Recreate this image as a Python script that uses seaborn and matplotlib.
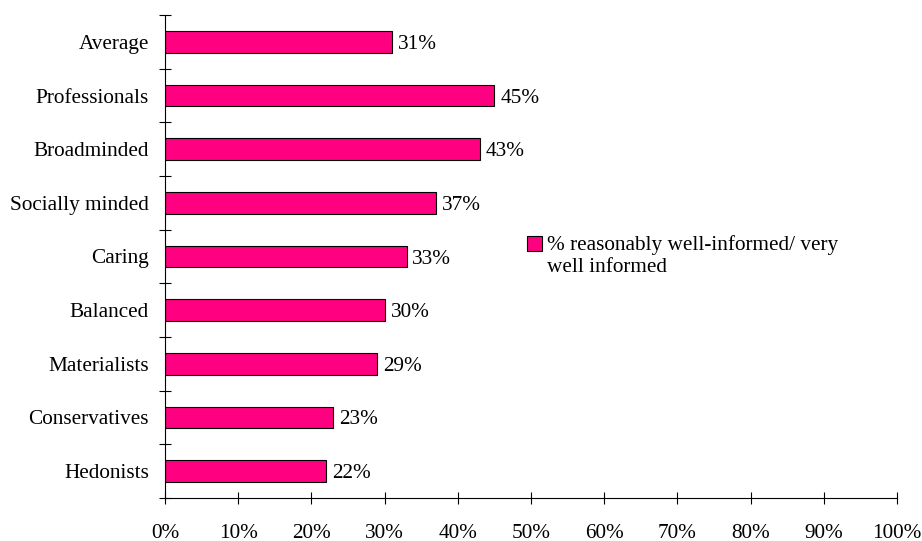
import matplotlib
matplotlib.use("Agg")
import matplotlib.pyplot as plt
import seaborn as sns
import pandas as pd
from matplotlib.patches import Patch, Rectangle
from matplotlib.legend_handler import HandlerPatch
from matplotlib.ticker import FixedLocator

categories = ["Average", "Professionals", "Broadminded", "Socially minded", "Caring",
              "Balanced", "Materialists", "Conservatives", "Hedonists"]
values = [31, 45, 43, 37, 33, 30, 29, 23, 22]
x_ticks = [0, 10, 20, 30, 40, 50, 60, 70, 80, 90, 100]
series_name = "% reasonably well-informed/ very\nwell informed"
bar_color = "#FF0080"

sns.set_theme(style="white")
plt.rcParams['font.family'] = ['Liberation Serif', 'DejaVu Serif']

FS = 15.3

df = pd.DataFrame({"cat": categories, "val": values})

fig = plt.figure(figsize=(9.22, 5.41), dpi=100)
ax = fig.add_axes([165/922, 43/541, 732/922, 483/541])

sns.barplot(data=df, x="val", y="cat", orient="h", color=bar_color,
            width=0.4, edgecolor="black", linewidth=0.8, saturation=1, ax=ax)

for i, v in enumerate(values):
    ax.text(v + 0.8, i, f"{v}%", va="center_baseline", ha="left", fontsize=FS, color="black")

ax.set_xlim(0, 100)
ax.set_ylim(len(categories) - 0.5, -0.5)
ax.set_xticks(x_ticks)
ax.set_xticklabels([f"{t}%" for t in x_ticks], fontsize=FS)
ax.tick_params(axis="x", bottom=True, direction="inout", length=9, width=0.8,
               color="black", pad=14)
ax.yaxis.set_minor_locator(FixedLocator([i - 0.5 for i in range(len(categories) + 1)]))
ax.tick_params(axis="y", which="major", length=0, pad=11.5, labelsize=FS)
ax.tick_params(axis="y", which="minor", direction="inout", length=9, width=0.8,
               color="black", left=True)
ax.set_xlabel("")
ax.set_ylabel("")
for s in ["top", "right"]:
    ax.spines[s].set_visible(False)
for s in ["left", "bottom"]:
    ax.spines[s].set_color("black")
    ax.spines[s].set_linewidth(0.8)
for lbl in ax.get_yticklabels() + ax.get_xticklabels():
    lbl.set_color("black")


def top_square(legend, orig_handle, xdescent, ydescent, width, height, fontsize):
    return Rectangle((-xdescent, -ydescent + 0.58 * fontsize), width, height)


handle = Patch(facecolor=bar_color, edgecolor="black", linewidth=0.8)
leg = ax.legend([handle], [series_name], loc="upper left", bbox_to_anchor=(0.4945, 0.544),
                frameon=False, fontsize=FS, handlelength=0.71, handleheight=0.71,
                handletextpad=0.24, borderaxespad=0, borderpad=0,
                handler_map={Patch: HandlerPatch(patch_func=top_square)})
for t in leg.get_texts():
    t.set_linespacing(1.22)
    t.set_color("black")

fig.savefig("out.png", dpi=100)
